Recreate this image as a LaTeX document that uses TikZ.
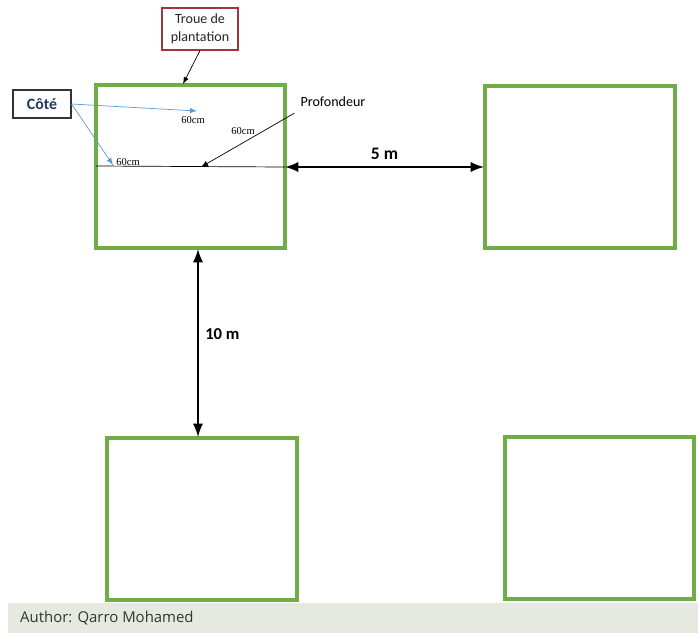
\documentclass[tikz,border=0pt]{standalone}
\usepackage{fontspec}
\setmainfont{Carlito}
\newfontfamily\timesfont{Liberation Serif}
\newfontfamily\footfont{Open Sans}
\usetikzlibrary{arrows,shapes,positioning}
\definecolor{bedgreen}{HTML}{70AD47}
\definecolor{tagred}{HTML}{A0363A}
\definecolor{tagnavy}{HTML}{1F3864}
\definecolor{sideblue}{HTML}{5B9BD5}
\definecolor{footgray}{HTML}{E6E9E0}
\tikzstyle{hole}=[draw=bedgreen, line width=2.3pt]
\tikzstyle{tag}=[draw, line width=0.6pt, align=center, font=\fontsize{8}{10}\selectfont]
\tikzstyle{sizelab}=[font=\timesfont\fontsize{6}{7}\selectfont, inner sep=1pt]
\tikzstyle{dist}=[line width=1.6pt, latex-latex]
\begin{document}
\begin{tikzpicture}[x=0.02cm, y=-0.02cm]
          \useasboundingbox (0,0) rectangle (698,633);
          % holes
          \draw[hole] (96,85) rectangle (285,248);
          \draw[hole] (485,86) rectangle (675,248);
          \draw[hole] (107,438) rectangle (297,600);
          \draw[hole] (505,437) rectangle (694,599);
          \coordinate (aw) at (96,166);
          \coordinate (ae) at (285,167);
          \coordinate (be) at (484,167);
          \coordinate (as) at (198,249);
          \coordinate (cn) at (198,437);
          \coordinate (an) at (183,84);
          % labels
          \node at (200,29) [tag, draw=tagred, text=black!85, minimum width=1.52cm, minimum height=0.84cm] (troue) {Troue de\\plantation};
          \node at (42,104) [tag, draw=black!80, text=tagnavy, font=\bfseries\fontsize{9}{11}\selectfont, minimum width=1.16cm, minimum height=0.56cm] (cote) {Côté};
          \node at (333,102) [font=\fontsize{8}{10}\selectfont] (prof) {Profondeur};
          \node at (193,120) [sizelab] (c1) {60cm};
          \node at (243,131) [sizelab] (c2) {60cm};
          \node at (128,162) [sizelab] (c3) {60cm};
          \coordinate (c1t) at (197,111);
          \coordinate (c3t) at (113,165);
          \coordinate (mid) at (201,167);
          % lines
          \draw[line width=0.4pt] (aw) -- (ae);
          \draw[-latex, line width=0.4pt] (troue.south) -- (an);
          \draw[-latex, sideblue, line width=0.4pt] (cote.east) -- (c1t);
          \draw[-latex, sideblue, line width=0.4pt] (cote.east) -- (c3t);
          \draw[-latex, line width=0.4pt] (prof.south west) -- (mid);
          \draw[dist] (ae) -- (be) node[midway, above, font=\bfseries\fontsize{10}{12}\selectfont] {5 m};
          \draw[dist] (as) -- (cn) node[pos=0.45, right, font=\bfseries\fontsize{9.5}{11}\selectfont] {10 m};
          % footer
          \fill[footgray] (8,603) rectangle (698,633);
          \node at (14,618) [anchor=west, text=black!80, font=\footfont\fontsize{8.5}{10}\selectfont] (author) {Author: Qarro Mohamed};
        \end{tikzpicture}
\end{document}
